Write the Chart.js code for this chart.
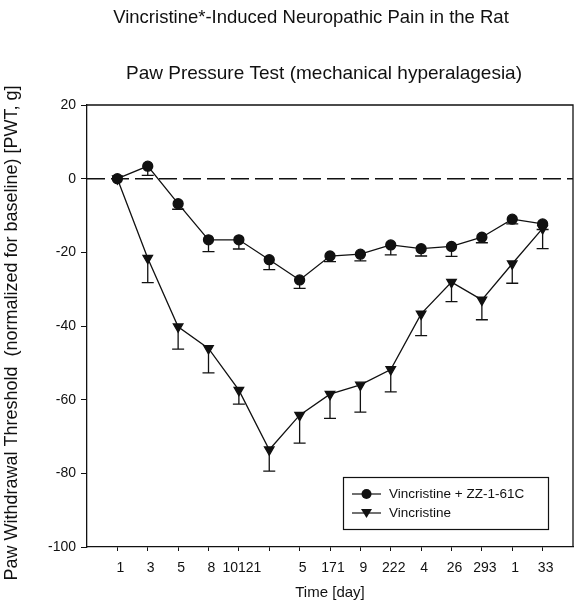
<!DOCTYPE html>
<html>
<head>
<meta charset="utf-8">
<script src="https://cdn.jsdelivr.net/npm/chart.js@4/dist/chart.umd.min.js"></script>
<style>
    body { margin: 0; background: #fff; }
    #wrap { width: 583px; height: 608px; }
</style>
</head>
<body>
<div id="wrap"><canvas id="chart" width="583" height="608"></canvas></div>
<script>
// ============== DATA ==============
// tick labels as printed under the axis (the scan has them run together)
const dayLabels = ['1', '3', '5', '8', '10121', '', '5', '171', '9', '222', '4', '26', '293', '1', '33'];
const yTicks = [20, 0, -20, -40, -60, -80, -100];

const zzValues = [0, 3.4, -6.8, -16.6, -16.6, -22, -27.5, -21, -20.5, -18, -19, -18.4, -15.9, -11, -12.3];
const zzErrors = [0, 2.5, 1.5, 3.2, 2.5, 2.7, 2.3, 1.5, 1.8, 2.7, 2, 2.7, 1.5, 1.3, 1.5];

const vinValues = [0, -21.6, -40.2, -46.1, -57.4, -73.6, -64.2, -58.5, -56, -51.8, -36.7, -28.1, -32.9, -23.1, -13.5];
const vinErrors = [0, 6.6, 6.1, 6.6, 3.8, 5.8, 7.6, 6.6, 7.4, 6.1, 5.9, 5.3, 5.4, 5.3, 5.5];

const FONT = "'Liberation Sans', Arial, sans-serif";

const toPoints = vals => vals.map((v, i) => ({ x: i + 1, y: v }));

// Error bars (downward only), dashed zero line
const extrasPlugin = {
    id: 'extras',
    beforeDatasetsDraw(chart) {
        const { ctx, chartArea, scales } = chart;
        const x = scales.x, y = scales.y;

        // dashed baseline
        ctx.save();
        ctx.strokeStyle = '#111';
        ctx.lineWidth = 1.5;
        ctx.setLineDash([18, 6]);
        ctx.beginPath();
        ctx.moveTo(chartArea.left, y.getPixelForValue(0));
        ctx.lineTo(chartArea.right, y.getPixelForValue(0));
        ctx.stroke();
        ctx.restore();

        // error bars
        const sets = [[zzValues, zzErrors], [vinValues, vinErrors]];
        ctx.save();
        ctx.strokeStyle = '#111';
        ctx.lineWidth = 1.3;
        sets.forEach(([vals, errs]) => {
            vals.forEach((v, i) => {
                if (!errs[i]) return;
                const px = x.getPixelForValue(i + 1);
                const top = y.getPixelForValue(v);
                const bot = y.getPixelForValue(v - errs[i]);
                ctx.beginPath();
                ctx.moveTo(px, top);
                ctx.lineTo(px, bot);
                ctx.moveTo(px - 6, bot);
                ctx.lineTo(px + 6, bot);
                ctx.stroke();
            });
        });
        ctx.restore();
    },
    afterDraw(chart) {
        const { ctx, chartArea } = chart;
        ctx.save();
        // frame top / right
        ctx.strokeStyle = '#111';
        ctx.lineWidth = 1.3;
        ctx.beginPath();
        ctx.moveTo(chartArea.left, chartArea.top);
        ctx.lineTo(chartArea.right, chartArea.top);
        ctx.lineTo(chartArea.right, chartArea.bottom);
        ctx.stroke();

        // titles
        ctx.fillStyle = '#111';
        ctx.textAlign = 'center';
        ctx.textBaseline = 'middle';
        ctx.font = '18.5px ' + FONT;
        ctx.fillText('Vincristine*-Induced Neuropathic Pain in the Rat', 311, 18);
        ctx.font = '19px ' + FONT;
        ctx.fillText('Paw Pressure Test (mechanical hyperalagesia)', 324, 74);

        // axis titles
        ctx.font = '15px ' + FONT;
        ctx.fillText('Time [day]', 330, 593);
        ctx.save();
        ctx.translate(12, 333);
        ctx.rotate(-Math.PI / 2);
        ctx.font = '18px ' + FONT;
        ctx.fillText('Paw Withdrawal Threshold  (normalized for baseline) [PWT, g]', 0, 0);
        ctx.restore();

        // legend box
        ctx.lineWidth = 1.2;
        ctx.strokeRect(343.5, 477.5, 205, 52);
        const rows = [
            { label: 'Vincristine + ZZ-1-61C', style: 'circle', y: 494 },
            { label: 'Vincristine', style: 'triangle', y: 513 }
        ];
        ctx.textAlign = 'left';
        ctx.font = '13.5px ' + FONT;
        rows.forEach(r => {
            ctx.beginPath();
            ctx.moveTo(352, r.y);
            ctx.lineTo(381, r.y);
            ctx.stroke();
            ctx.beginPath();
            if (r.style === 'circle') {
                ctx.arc(366.5, r.y, 5, 0, Math.PI * 2);
            } else {
                ctx.moveTo(361, r.y - 4);
                ctx.lineTo(372, r.y - 4);
                ctx.lineTo(366.5, r.y + 5);
                ctx.closePath();
            }
            ctx.fill();
            ctx.fillText(r.label, 389, r.y);
        });
        ctx.restore();
    }
};

const ctx = document.getElementById('chart').getContext('2d');
const chart = new Chart(ctx, {
    type: 'line',
    data: {
        datasets: [{
            label: 'Vincristine + ZZ-1-61C',
            data: toPoints(zzValues),
            borderColor: '#111',
            backgroundColor: '#111',
            borderWidth: 1.3,
            pointStyle: 'circle',
            pointRadius: 5,
            pointBackgroundColor: '#111',
            pointBorderColor: '#111'
        }, {
            label: 'Vincristine',
            data: toPoints(vinValues),
            borderColor: '#111',
            backgroundColor: '#111',
            borderWidth: 1.3,
            pointStyle: 'triangle',
            pointRotation: 180,
            pointRadius: 5.5,
            pointBackgroundColor: '#111',
            pointBorderColor: '#111'
        }]
    },
    options: {
        responsive: false,
        animation: false,
        layout: { padding: { left: 0, right: 10, top: 105, bottom: 0 } },
        plugins: {
            legend: { display: false },
            tooltip: { enabled: false }
        },
        scales: {
            x: {
                type: 'linear',
                min: 0,
                max: 16,
                afterBuildTicks: scale => {
                    scale.ticks = dayLabels.map((l, i) => ({ value: i + 1 }));
                },
                afterFit: scale => { scale.height = 61; },
                grid: { drawOnChartArea: false, tickLength: 4, color: '#111' },
                border: { color: '#111', width: 1.3 },
                ticks: {
                    autoSkip: false,
                    maxRotation: 0,
                    padding: 9,
                    labelOffset: 3,
                    color: '#111',
                    font: { family: FONT, size: 14 },
                    callback: value => dayLabels[value - 1]
                }
            },
            y: {
                min: -100,
                max: 20,
                afterBuildTicks: scale => {
                    scale.ticks = yTicks.map(v => ({ value: v }));
                },
                afterFit: scale => { scale.width = 87; },
                grid: { drawOnChartArea: false, tickLength: 6, color: '#111' },
                border: { color: '#111', width: 1.3 },
                ticks: {
                    padding: 5,
                    color: '#111',
                    font: { family: FONT, size: 14 }
                }
            }
        }
    },
    plugins: [extrasPlugin]
});
</script>
</body>
</html>
